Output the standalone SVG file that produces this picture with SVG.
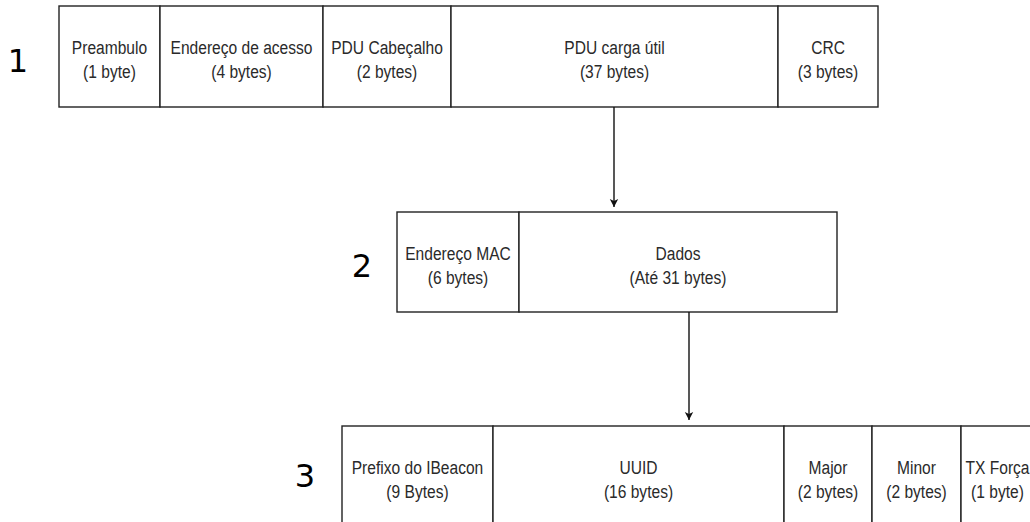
<svg xmlns="http://www.w3.org/2000/svg" width="1030" height="522" viewBox="0 0 1030 522">
<style>
.cell{fill:#fff;stroke:#222;stroke-width:1.4}
.t{font-family:"Liberation Sans",Arial,sans-serif;font-size:19px;fill:#2a2a2a;text-anchor:middle}
.num{font-family:"DejaVu Sans",sans-serif;font-size:32px;fill:#000;text-anchor:middle}
.conn{stroke:#111;stroke-width:1.4;fill:none}
</style>
<defs>
<marker id="arr" markerWidth="10" markerHeight="10" refX="8" refY="5" orient="auto" markerUnits="userSpaceOnUse">
<path d="M0,0.8 L8,5 L0,9.2 L2,5 Z" fill="#111"/>
</marker>
</defs>
<g id="row1">
<text class="num" x="18" y="72">1</text>
<g id="preambulo"><rect class="cell" x="59" y="6" width="101" height="101"/><text class="t" transform="translate(109.5,54) scale(0.82,1)">Preambulo</text><text class="t" transform="translate(109.5,78) scale(0.82,1)">(1 byte)</text></g>
<g id="endereco-acesso"><rect class="cell" x="160" y="6" width="163" height="101"/><text class="t" transform="translate(241.5,54) scale(0.82,1)">Endereço de acesso</text><text class="t" transform="translate(241.5,78) scale(0.82,1)">(4 bytes)</text></g>
<g id="pdu-cabecalho"><rect class="cell" x="323" y="6" width="128" height="101"/><text class="t" transform="translate(387,54) scale(0.82,1)">PDU Cabeçalho</text><text class="t" transform="translate(387,78) scale(0.82,1)">(2 bytes)</text></g>
<g id="pdu-carga"><rect class="cell" x="451" y="6" width="327" height="101"/><text class="t" transform="translate(614.5,54) scale(0.82,1)">PDU carga útil</text><text class="t" transform="translate(614.5,78) scale(0.82,1)">(37 bytes)</text></g>
<g id="crc"><rect class="cell" x="778" y="6" width="100" height="101"/><text class="t" transform="translate(828,54) scale(0.82,1)">CRC</text><text class="t" transform="translate(828,78) scale(0.82,1)">(3 bytes)</text></g>
</g>
<g id="row2">
<text class="num" x="362" y="277">2</text>
<g id="endereco-mac"><rect class="cell" x="397" y="212" width="122" height="100"/><text class="t" transform="translate(458,260) scale(0.82,1)">Endereço MAC</text><text class="t" transform="translate(458,284) scale(0.82,1)">(6 bytes)</text></g>
<g id="dados"><rect class="cell" x="519" y="212" width="318" height="100"/><text class="t" transform="translate(678,260) scale(0.82,1)">Dados</text><text class="t" transform="translate(678,284) scale(0.82,1)">(Até 31 bytes)</text></g>
</g>
<g id="row3">
<text class="num" x="305" y="487">3</text>
<g id="prefixo"><rect class="cell" x="342" y="426" width="151" height="101"/><text class="t" transform="translate(417.5,474) scale(0.82,1)">Prefixo do IBeacon</text><text class="t" transform="translate(417.5,498) scale(0.82,1)">(9 Bytes)</text></g>
<g id="uuid"><rect class="cell" x="493" y="426" width="291" height="101"/><text class="t" transform="translate(638.5,474) scale(0.82,1)">UUID</text><text class="t" transform="translate(638.5,498) scale(0.82,1)">(16 bytes)</text></g>
<g id="major"><rect class="cell" x="784" y="426" width="88" height="101"/><text class="t" transform="translate(828,474) scale(0.82,1)">Major</text><text class="t" transform="translate(828,498) scale(0.82,1)">(2 bytes)</text></g>
<g id="minor"><rect class="cell" x="872" y="426" width="89" height="101"/><text class="t" transform="translate(916.5,474) scale(0.82,1)">Minor</text><text class="t" transform="translate(916.5,498) scale(0.82,1)">(2 bytes)</text></g>
<g id="tx"><rect class="cell" x="961" y="426" width="76" height="101"/><text class="t" transform="translate(997.5,474) scale(0.82,1)">TX Força</text><text class="t" transform="translate(997.5,498) scale(0.82,1)">(1 byte)</text></g>
</g>
<g id="connectors">
<line class="conn" x1="614" y1="107" x2="614" y2="207" marker-end="url(#arr)"/>
<line class="conn" x1="689" y1="312" x2="689" y2="420" marker-end="url(#arr)"/>
</g>
</svg>
